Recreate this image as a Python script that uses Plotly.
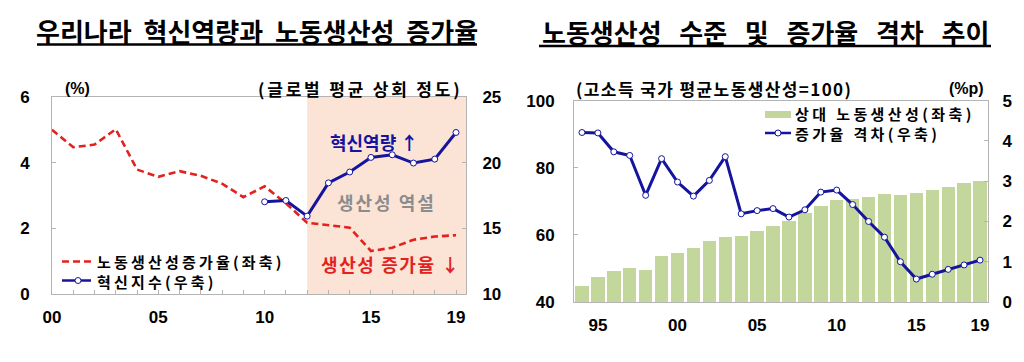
import plotly.graph_objects as go

# ---------------- data ----------------
# Left chart: Korea innovation capacity vs labour productivity growth
left_years = list(range(2000, 2020))
productivity_growth = [5.0, 4.47, 4.55, 5.02, 3.79, 3.57, 3.74, 3.6, 3.36, 2.95,
                       3.28, 2.76, 2.17, 2.1, 2.02, 1.31, 1.41, 1.65, 1.75, 1.79]
innov_years = list(range(2010, 2020))
innovation_index = [17.02, 17.12, 15.93, 18.46, 19.29, 20.4, 20.6, 19.97, 20.27, 22.3]
left_tickvals = [2000, 2005, 2010, 2015, 2019]
left_ticktext = ["00", "05", "10", "15", "19"]
paradox_period = [2012, 2019.47]

# Right chart: relative labour productivity level and growth gap
right_years = list(range(1994, 2020))
relative_productivity = [44.9, 47.4, 49.2, 50.2, 49.6, 53.8, 54.8, 56.1, 58.2, 59.5,
                         59.9, 61.2, 62.7, 64.3, 66.5, 68.7, 70.4, 70.9, 71.4, 72.4,
                         72.1, 72.7, 73.4, 74.5, 75.6, 76.1]
growth_gap = [4.21, 4.2, 3.73, 3.64, 2.65, 3.56, 2.98, 2.63, 3.02, 3.61,
              2.19, 2.27, 2.32, 2.11, 2.29, 2.73, 2.78, 2.42, 2.0, 1.61,
              1.0, 0.57, 0.69, 0.81, 0.92, 1.04]
right_tickvals = [1995, 2000, 2005, 2010, 2015, 2019]
right_ticktext = ["95", "00", "05", "10", "15", "19"]

# ---------------- style ----------------
OFF = 8                      # page body margin of the browser
W, H = 1024 - 2 * OFF, 362 - 2 * OFF
RED = "#e3211e"
BLUE = "#14149e"
GREEN = "#c3d69b"
SHADE = "#fbe4d6"
FRAME = "#b4b4b4"
FONT = "Liberation Sans, Arial, Noto Sans CJK KR"
KFONT = "Noto Sans CJK KR, Liberation Sans"


def px(x):
    return (x - OFF) / W


def py(y):
    return 1 - (y - OFF) / H


fig = go.Figure()

# left chart traces
fig.add_trace(go.Scatter(x=left_years, y=productivity_growth, mode="lines",
                         line=dict(color=RED, width=2.6, dash="7px,4px"),
                         xaxis="x", yaxis="y", showlegend=False))
fig.add_trace(go.Scatter(x=innov_years, y=innovation_index, mode="lines+markers",
                         line=dict(color=BLUE, width=3),
                         marker=dict(size=6, color="white", line=dict(color=BLUE, width=1)),
                         xaxis="x", yaxis="y2", showlegend=False))

# right chart traces
fig.add_trace(go.Bar(x=right_years, y=relative_productivity, marker=dict(color=GREEN, line=dict(width=0)),
                     width=0.84, xaxis="x2", yaxis="y3", showlegend=False))
fig.add_trace(go.Scatter(x=right_years, y=growth_gap, mode="lines+markers",
                         line=dict(color=BLUE, width=3),
                         marker=dict(size=6, color="white", line=dict(color=BLUE, width=1)),
                         xaxis="x2", yaxis="y4", showlegend=False))

tickfont = dict(family=FONT, size=17, color="black", weight="bold")
axis_common = dict(showgrid=False, zeroline=False, showline=True, linecolor=FRAME,
                   linewidth=1, tickfont=tickfont, ticks="inside", ticklen=4,
                   tickcolor=FRAME, fixedrange=True, automargin=False)

fig.update_layout(
    width=W, height=H, margin=dict(l=0, r=0, t=0, b=0, autoexpand=False),
    paper_bgcolor="white", plot_bgcolor="white",
    bargap=0,
    xaxis=dict(axis_common, domain=[px(52), px(466)], range=[2000, 2019.47], anchor="y",
               tickmode="array", tickvals=left_tickvals, ticktext=left_ticktext,
               mirror=True, ticklabelstandoff=8,
               minor=dict(ticks="inside", ticklen=4, dtick=1, tick0=2000, tickcolor=FRAME)),
    yaxis=dict(axis_common, domain=[py(294), py(97)], range=[0, 6], dtick=2, anchor="x",
               ticklabelstandoff=18),
    yaxis2=dict(axis_common, range=[10, 25], dtick=5, anchor="x", overlaying="y", side="right",
                ticklabelstandoff=12),
    xaxis2=dict(axis_common, domain=[px(574), px(988)], range=[1993.5, 2019.5], anchor="y3",
                tickmode="array", tickvals=right_tickvals, ticktext=right_ticktext,
                ticks="", mirror=True, ticklabelstandoff=8),
    yaxis3=dict(axis_common, domain=[py(302), py(100.7)], range=[40, 100], dtick=20, anchor="x2",
                ticklabelstandoff=15),
    yaxis4=dict(axis_common, range=[0, 5], dtick=1, anchor="x2", overlaying="y3", side="right",
                ticklabelstandoff=10),
)

shapes = []
# productivity paradox shading
shapes.append(dict(type="rect", xref="x", yref="y domain", x0=paradox_period[0], x1=paradox_period[1],
                   y0=0, y1=1, fillcolor=SHADE, line=dict(width=0), layer="below"))
# title underlines
shapes.append(dict(type="line", xref="paper", yref="paper", x0=px(37), x1=px(477), y0=py(44.5), y1=py(44.5),
                   line=dict(color="black", width=2.5)))
shapes.append(dict(type="line", xref="paper", yref="paper", x0=px(539), x1=px(991), y0=py(46), y1=py(46),
                   line=dict(color="black", width=2.5)))
# left legend samples
shapes.append(dict(type="line", xref="paper", yref="paper", x0=px(62), x1=px(91), y0=py(261.5), y1=py(261.5),
                   line=dict(color=RED, width=2.6, dash="7px,4px")))
shapes.append(dict(type="line", xref="paper", yref="paper", x0=px(62), x1=px(91), y0=py(280.5), y1=py(280.5),
                   line=dict(color=BLUE, width=2.5)))
shapes.append(dict(type="circle", xref="paper", yref="paper", x0=px(75), x1=px(81), y0=py(277.5), y1=py(283.5),
                   fillcolor="white", line=dict(color=BLUE, width=1)))
# right legend samples
shapes.append(dict(type="rect", xref="paper", yref="paper", x0=px(765), x1=px(791), y0=py(118), y1=py(111),
                   fillcolor=GREEN, line=dict(width=0)))
shapes.append(dict(type="line", xref="paper", yref="paper", x0=px(765), x1=px(791), y0=py(133), y1=py(133),
                   line=dict(color=BLUE, width=2.5)))
shapes.append(dict(type="circle", xref="paper", yref="paper", x0=px(775), x1=px(781), y0=py(130), y1=py(136),
                   fillcolor="white", line=dict(color=BLUE, width=1)))
fig.update_layout(shapes=shapes)


def spaced(text, spacing):
    return f'<span style="letter-spacing:{spacing}px">{text}</span>' if spacing else text


def ann(text, x, y, size, color="black", xanchor="center", family=KFONT, spacing=0, align="center"):
    if isinstance(text, (list, tuple)):
        text = "<br>".join(spaced(t, spacing) for t in text)
    else:
        text = spaced(text, spacing)
    fig.add_annotation(text=text, xref="paper", yref="paper", x=px(x), y=py(y),
                       xanchor=xanchor, yanchor="middle", showarrow=False, align=align,
                       font=dict(family=family, size=size, color=color, weight="bold"))


# titles
ann("우리나라  혁신역량과  노동생산성  증가율", 257, 30, 26)
ann("노동생산성   수준   및   증가율   격차   추이", 765, 31, 26)
# left chart texts
ann("(%)", 63, 88, 16, xanchor="left", family=FONT)
ann("(글로벌 평균 상회 정도)", 464, 88, 17, xanchor="right", spacing=2.8)
ann(["노동생산성증가율(좌축)", "혁신지수(우축)"], 95, 271, 15, xanchor="left", spacing=3.2, align="left")
ann("혁신역량 ↑", 374, 142, 18, color=BLUE)
ann("생산성 역설", 386, 202, 18, color="#8c8c8c", spacing=2)
ann("생산성 증가율 ↓", 391, 264, 18, color=RED, spacing=1.6)
# right chart texts
ann("(고소득 국가 평균노동생산성=100)", 574, 88, 17, xanchor="left", spacing=1.4)
ann("(%p)", 986, 88, 16, xanchor="right", family=FONT)
ann(["상대 노동생산성(좌축)", "증가율 격차(우축)"], 793, 123.5, 15, xanchor="left", spacing=3.4, align="left")

fig.write_html("out.html")
